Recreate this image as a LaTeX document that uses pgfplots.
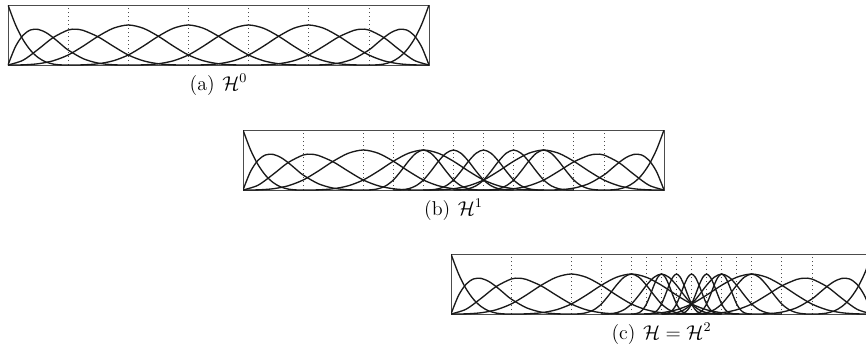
\documentclass[border=0pt]{standalone}
\usepackage{pgfplots}
\usepackage{pgfplotstable}
\pgfplotsset{compat=1.18}

% cubic B-splines, open knot vector on [0,7]; values sampled from the plot
% boundary functions (left) and their mirror images (right)
\pgfplotstableread{
x y
0 1
0.125 0.6699
0.25 0.4219
0.375 0.2441
0.5 0.125
0.625 0.0527
0.75 0.0156
0.875 0.0020
1 0
}\Lzero
\pgfplotstableread{
x y
0 0
0.125 0.3081
0.25 0.4961
0.375 0.5845
0.5 0.5938
0.625 0.5444
0.75 0.4570
0.875 0.3521
1 0.25
1.25 0.1055
1.5 0.0313
1.75 0.0039
2 0
}\Lone
\pgfplotstableread{
x y
0 0
0.25 0.0794
0.5 0.2604
0.75 0.4570
1 0.5833
1.125 0.5962
1.25 0.5768
1.5 0.4688
1.75 0.3138
2 0.1667
2.25 0.0703
2.5 0.0208
2.75 0.0026
3 0
}\Ltwo
\pgfplotstableread{
x y
6 0
6.125 0.0020
6.25 0.0156
6.375 0.0527
6.5 0.125
6.625 0.2441
6.75 0.4219
6.875 0.6699
7 1
}\Rzero
\pgfplotstableread{
x y
5 0
5.25 0.0039
5.5 0.0313
5.75 0.1055
6 0.25
6.125 0.3521
6.25 0.4570
6.375 0.5444
6.5 0.5938
6.625 0.5845
6.75 0.4961
6.875 0.3081
7 0
}\Rone
\pgfplotstableread{
x y
4 0
4.25 0.0026
4.5 0.0208
4.75 0.0703
5 0.1667
5.25 0.3138
5.5 0.4688
5.75 0.5768
5.875 0.5962
6 0.5833
6.25 0.4570
6.5 0.2604
6.75 0.0794
7 0
}\Rtwo

% level 0, uniform, knot spacing 1
\pgfplotstableread{
x y
0 0
0.25 0.0026
0.5 0.0208
0.75 0.0703
1 0.1667
1.25 0.3151
1.5 0.4792
1.75 0.6120
2 0.6667
2.25 0.6120
2.5 0.4792
2.75 0.3151
3 0.1667
3.25 0.0703
3.5 0.0208
3.75 0.0026
4 0
}\Aa
\pgfplotstableread{
x y
1 0
1.25 0.0026
1.5 0.0208
1.75 0.0703
2 0.1667
2.25 0.3151
2.5 0.4792
2.75 0.6120
3 0.6667
3.25 0.6120
3.5 0.4792
3.75 0.3151
4 0.1667
4.25 0.0703
4.5 0.0208
4.75 0.0026
5 0
}\Ab
\pgfplotstableread{
x y
2 0
2.25 0.0026
2.5 0.0208
2.75 0.0703
3 0.1667
3.25 0.3151
3.5 0.4792
3.75 0.6120
4 0.6667
4.25 0.6120
4.5 0.4792
4.75 0.3151
5 0.1667
5.25 0.0703
5.5 0.0208
5.75 0.0026
6 0
}\Ac
\pgfplotstableread{
x y
3 0
3.25 0.0026
3.5 0.0208
3.75 0.0703
4 0.1667
4.25 0.3151
4.5 0.4792
4.75 0.6120
5 0.6667
5.25 0.6120
5.5 0.4792
5.75 0.3151
6 0.1667
6.25 0.0703
6.5 0.0208
6.75 0.0026
7 0
}\Ad

% level 1, knot spacing 1/2
\pgfplotstableread{
x y
2 0
2.125 0.0026
2.25 0.0208
2.375 0.0703
2.5 0.1667
2.625 0.3151
2.75 0.4792
2.875 0.6120
3 0.6667
3.125 0.6120
3.25 0.4792
3.375 0.3151
3.5 0.1667
3.625 0.0703
3.75 0.0208
3.875 0.0026
4 0
}\Ba
\pgfplotstableread{
x y
2.5 0
2.625 0.0026
2.75 0.0208
2.875 0.0703
3 0.1667
3.125 0.3151
3.25 0.4792
3.375 0.6120
3.5 0.6667
3.625 0.6120
3.75 0.4792
3.875 0.3151
4 0.1667
4.125 0.0703
4.25 0.0208
4.375 0.0026
4.5 0
}\Bb
\pgfplotstableread{
x y
3 0
3.125 0.0026
3.25 0.0208
3.375 0.0703
3.5 0.1667
3.625 0.3151
3.75 0.4792
3.875 0.6120
4 0.6667
4.125 0.6120
4.25 0.4792
4.375 0.3151
4.5 0.1667
4.625 0.0703
4.75 0.0208
4.875 0.0026
5 0
}\Bc
\pgfplotstableread{
x y
3.5 0
3.625 0.0026
3.75 0.0208
3.875 0.0703
4 0.1667
4.125 0.3151
4.25 0.4792
4.375 0.6120
4.5 0.6667
4.625 0.6120
4.75 0.4792
4.875 0.3151
5 0.1667
5.125 0.0703
5.25 0.0208
5.375 0.0026
5.5 0
}\Bd
\pgfplotstableread{
x y
4 0
4.125 0.0026
4.25 0.0208
4.375 0.0703
4.5 0.1667
4.625 0.3151
4.75 0.4792
4.875 0.6120
5 0.6667
5.125 0.6120
5.25 0.4792
5.375 0.3151
5.5 0.1667
5.625 0.0703
5.75 0.0208
5.875 0.0026
6 0
}\Be

% level 2, knot spacing 1/4
\pgfplotstableread{
x y
3 0
3.0625 0.0026
3.125 0.0208
3.1875 0.0703
3.25 0.1667
3.3125 0.3151
3.375 0.4792
3.4375 0.6120
3.5 0.6667
3.5625 0.6120
3.625 0.4792
3.6875 0.3151
3.75 0.1667
3.8125 0.0703
3.875 0.0208
3.9375 0.0026
4 0
}\Ca
\pgfplotstableread{
x y
3.25 0
3.3125 0.0026
3.375 0.0208
3.4375 0.0703
3.5 0.1667
3.5625 0.3151
3.625 0.4792
3.6875 0.6120
3.75 0.6667
3.8125 0.6120
3.875 0.4792
3.9375 0.3151
4 0.1667
4.0625 0.0703
4.125 0.0208
4.1875 0.0026
4.25 0
}\Cb
\pgfplotstableread{
x y
3.5 0
3.5625 0.0026
3.625 0.0208
3.6875 0.0703
3.75 0.1667
3.8125 0.3151
3.875 0.4792
3.9375 0.6120
4 0.6667
4.0625 0.6120
4.125 0.4792
4.1875 0.3151
4.25 0.1667
4.3125 0.0703
4.375 0.0208
4.4375 0.0026
4.5 0
}\Cc
\pgfplotstableread{
x y
3.75 0
3.8125 0.0026
3.875 0.0208
3.9375 0.0703
4 0.1667
4.0625 0.3151
4.125 0.4792
4.1875 0.6120
4.25 0.6667
4.3125 0.6120
4.375 0.4792
4.4375 0.3151
4.5 0.1667
4.5625 0.0703
4.625 0.0208
4.6875 0.0026
4.75 0
}\Cd
\pgfplotstableread{
x y
4 0
4.0625 0.0026
4.125 0.0208
4.1875 0.0703
4.25 0.1667
4.3125 0.3151
4.375 0.4792
4.4375 0.6120
4.5 0.6667
4.5625 0.6120
4.625 0.4792
4.6875 0.3151
4.75 0.1667
4.8125 0.0703
4.875 0.0208
4.9375 0.0026
5 0
}\Ce

\pgfplotsset{
  hb/.style={
    width=252.6pt, height=36pt, scale only axis,
    xmin=0, xmax=7, ymin=0, ymax=1,
    ytick=\empty, xticklabels={}, major tick length=0pt,
    xmajorgrids, grid style={dotted, black!70, line width=0.4pt},
    axis line style={black!70, line width=0.5pt},
    xlabel style={at={(axis description cs:0.5,0)}, anchor=north,
      yshift=-2pt, font=\large},
  },
  bsp/.style={smooth, black!90, line width=0.8pt},
}

\begin{document}
\begin{tikzpicture}
\useasboundingbox (0,0) rectangle (519.6pt,-209.4pt);

% (a) coarse level
\begin{axis}[hb, at={(4.8pt,-39pt)}, anchor=south west,
  xtick={1,2,3,4,5,6}, xlabel={(a)\hspace{4.5pt}$\mathcal{H}^0$}]
\addplot[bsp] table {\Lzero};
\addplot[bsp] table {\Lone};
\addplot[bsp] table {\Ltwo};
\addplot[bsp] table {\Aa};
\addplot[bsp] table {\Ab};
\addplot[bsp] table {\Ac};
\addplot[bsp] table {\Ad};
\addplot[bsp] table {\Rtwo};
\addplot[bsp] table {\Rone};
\addplot[bsp] table {\Rzero};
\end{axis}

% (b) refined on [2,6]
\begin{axis}[hb, at={(145.8pt,-114pt)}, anchor=south west,
  xtick={1,2,2.5,3,3.5,4,4.5,5,5.5,6}, xlabel={(b)\hspace{4.5pt}$\mathcal{H}^1$}]
\addplot[bsp] table {\Lzero};
\addplot[bsp] table {\Lone};
\addplot[bsp] table {\Ltwo};
\addplot[bsp] table {\Aa};
\addplot[bsp] table {\Ab};
\addplot[bsp] table {\Ad};
\addplot[bsp] table {\Rtwo};
\addplot[bsp] table {\Rone};
\addplot[bsp] table {\Rzero};
\addplot[bsp] table {\Ba};
\addplot[bsp] table {\Bb};
\addplot[bsp] table {\Bc};
\addplot[bsp] table {\Bd};
\addplot[bsp] table {\Be};
\end{axis}

% (c) refined again on [3,5]
\begin{axis}[hb, at={(270.6pt,-188.4pt)}, anchor=south west,
  xtick={1,2,2.5,3,3.25,3.5,3.75,4,4.25,4.5,4.75,5,5.5,6},
  xlabel={(c)\hspace{4.5pt}$\mathcal{H}=\mathcal{H}^2$}]
\addplot[bsp] table {\Lzero};
\addplot[bsp] table {\Lone};
\addplot[bsp] table {\Ltwo};
\addplot[bsp] table {\Aa};
\addplot[bsp] table {\Ab};
\addplot[bsp] table {\Ad};
\addplot[bsp] table {\Rtwo};
\addplot[bsp] table {\Rone};
\addplot[bsp] table {\Rzero};
\addplot[bsp] table {\Ba};
\addplot[bsp] table {\Bb};
\addplot[bsp] table {\Bd};
\addplot[bsp] table {\Be};
\addplot[bsp] table {\Ca};
\addplot[bsp] table {\Cb};
\addplot[bsp] table {\Cc};
\addplot[bsp] table {\Cd};
\addplot[bsp] table {\Ce};
\end{axis}
\end{tikzpicture}
\end{document}
